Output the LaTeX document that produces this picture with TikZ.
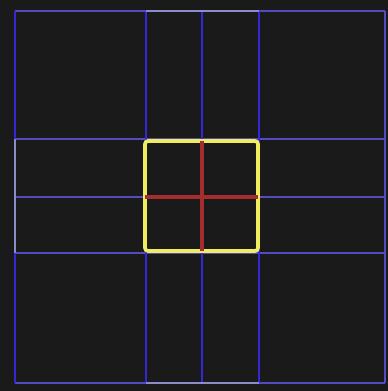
\documentclass[tikz,border=0pt]{standalone}
\usepackage{tikz}

\definecolor{fondo}{RGB}{26,26,26}
\definecolor{azul}{RGB}{50,40,215}
\definecolor{azul_claro}{RGB}{85,75,195}
\definecolor{gris_azul}{RGB}{140,140,200}
\definecolor{amarillo}{RGB}{240,238,95}
\definecolor{rojo}{RGB}{165,45,45}

\begin{document}
\begin{tikzpicture}[x=1pt, y=-1pt]
  % Definir estilos
  \tikzset{
    linea_v/.style={azul, line width=2.6pt},
    linea_h/.style={azul_claro, line width=2.6pt},
    linea_borde/.style={gris_azul, line width=2.6pt},
    cuadro_central/.style={amarillo, line width=3.6pt, rounded corners=3pt},
    cruz/.style={rojo, line width=3.4pt}
  }

  % Fondo
  \fill[fondo] (0,0) rectangle (388,391);
  \useasboundingbox (0,0) rectangle (388,391);

  % Lineas horizontales de la rejilla
  \draw[linea_h] (15,11) -- (146,11);
  \draw[linea_h] (259,11) -- (385,11);
  \foreach \y in {139,197,253} {
    \draw[linea_h] (15,\y) -- (385,\y);
  }
  \draw[linea_h] (15,383) -- (146,383);
  \draw[linea_h] (259,383) -- (385,383);

  % Lineas verticales de la rejilla
  \foreach \x in {146,202,259} {
    \draw[linea_v] (\x,11) -- (\x,383);
  }
  \draw[linea_v] (15,11) -- (15,139);
  \draw[linea_v] (15,253) -- (15,383);
  \draw[linea_h] (385,11) -- (385,383);

  % Bordes claros en la columna y fila centrales
  \draw[linea_borde] (146,11) -- (259,11);
  \draw[linea_borde] (146,383) -- (259,383);
  \draw[linea_borde] (15,139) -- (15,253);

  % Cuadro central
  \draw[cuadro_central] (145,141) rectangle (258,251);

  % Cruz roja
  \draw[cruz] (202,141) -- (202,251);
  \draw[cruz] (145,197) -- (258,197);
\end{tikzpicture}
\end{document}
